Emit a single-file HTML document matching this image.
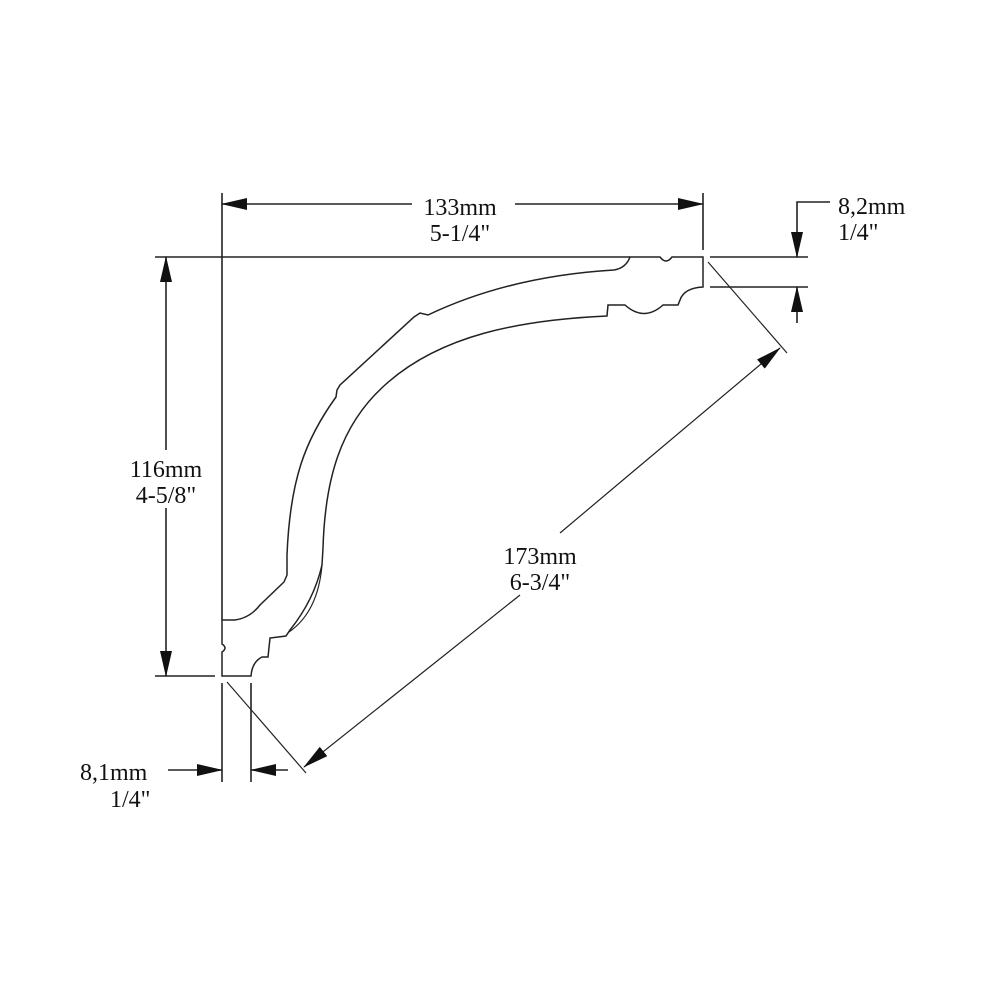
<!DOCTYPE html>
<html><head><style>
body{margin:0;background:#fff}
svg text{font-family:"Liberation Serif",serif;font-size:24px;fill:#111}
</style></head><body>
<svg width="1000" height="1000" viewBox="0 0 1000 1000" xmlns="http://www.w3.org/2000/svg">
<defs>
<marker id="a" markerWidth="26" markerHeight="12" refX="25" refY="6" orient="auto" markerUnits="userSpaceOnUse">
<path d="M0,0 L26,6 L0,12 Z" fill="#111"/></marker>
</defs>
<g stroke="#222" stroke-width="1.6" fill="none">
<line x1="222" y1="193" x2="222" y2="620"/>
<line x1="222" y1="683" x2="222" y2="782"/>
<line x1="251" y1="683" x2="251" y2="782"/>
<line x1="703" y1="193" x2="703" y2="250"/>
<line x1="155" y1="257" x2="630" y2="257"/>
<line x1="710" y1="257" x2="808" y2="257"/>
<line x1="710" y1="287" x2="808" y2="287"/>
<line x1="155" y1="676" x2="215" y2="676"/>
<line x1="708" y1="262" x2="787" y2="353" stroke-width="1.2"/>
<line x1="227" y1="682" x2="306" y2="773" stroke-width="1.2"/>
<line x1="412" y1="204" x2="222" y2="204" marker-end="url(#a)"/>
<line x1="515" y1="204" x2="703" y2="204" marker-end="url(#a)"/>
<line x1="166" y1="452" x2="166" y2="257" marker-end="url(#a)"/>
<line x1="166" y1="508" x2="166" y2="676" marker-end="url(#a)"/>
<polyline points="830,202 797,202 797,257" marker-end="url(#a)"/>
<line x1="797" y1="323" x2="797" y2="287" marker-end="url(#a)"/>
<line x1="168" y1="770" x2="222" y2="770" marker-end="url(#a)"/>
<line x1="288" y1="770" x2="251" y2="770" marker-end="url(#a)"/>
<line x1="560" y1="533" x2="780" y2="348" marker-end="url(#a)" stroke-width="1.2"/>
<line x1="520" y1="595" x2="304" y2="767" marker-end="url(#a)" stroke-width="1.2"/>
<path stroke-width="1.5" d="M630,257 L660,257 Q666,265 672,257 L703,257 L703,287 Q684,288 680,300 L678,305 L663,305 Q644,322 625,305 L608,305 L607,316
C520,320 440,335 385,385 C340,425 325,480 323,548 L322,565 Q314,600 290,630 L286,636 L270,638 L268,657 L262,657 Q252,662 251,676 L222,676 L222,652 Q228,648 222,644 L222,620 L235,620 Q250,618 260,605 L284,582 L287,575
L287,555 C290,480 305,440 336,397 L337,390 L340,385 L414,317 L420,313 L428,315 C470,295 530,275 614,270 Q626,268 630,257 Z"/>
<path stroke-width="1.2" d="M322,565 Q318,612 289,632"/>
</g>
<rect x="120" y="450" width="92" height="56" fill="#fff"/>
<text x="460" y="215" text-anchor="middle">133mm</text>
<text x="460" y="241" text-anchor="middle">5-1/4"</text>
<text x="166" y="477" text-anchor="middle">116mm</text>
<text x="166" y="503" text-anchor="middle">4-5/8"</text>
<text x="838" y="214">8,2mm</text>
<text x="838" y="240">1/4"</text>
<text x="540" y="564" text-anchor="middle">173mm</text>
<text x="540" y="590" text-anchor="middle">6-3/4"</text>
<text x="80" y="780">8,1mm</text>
<text x="110" y="807">1/4"</text>
</svg>
</body></html>
